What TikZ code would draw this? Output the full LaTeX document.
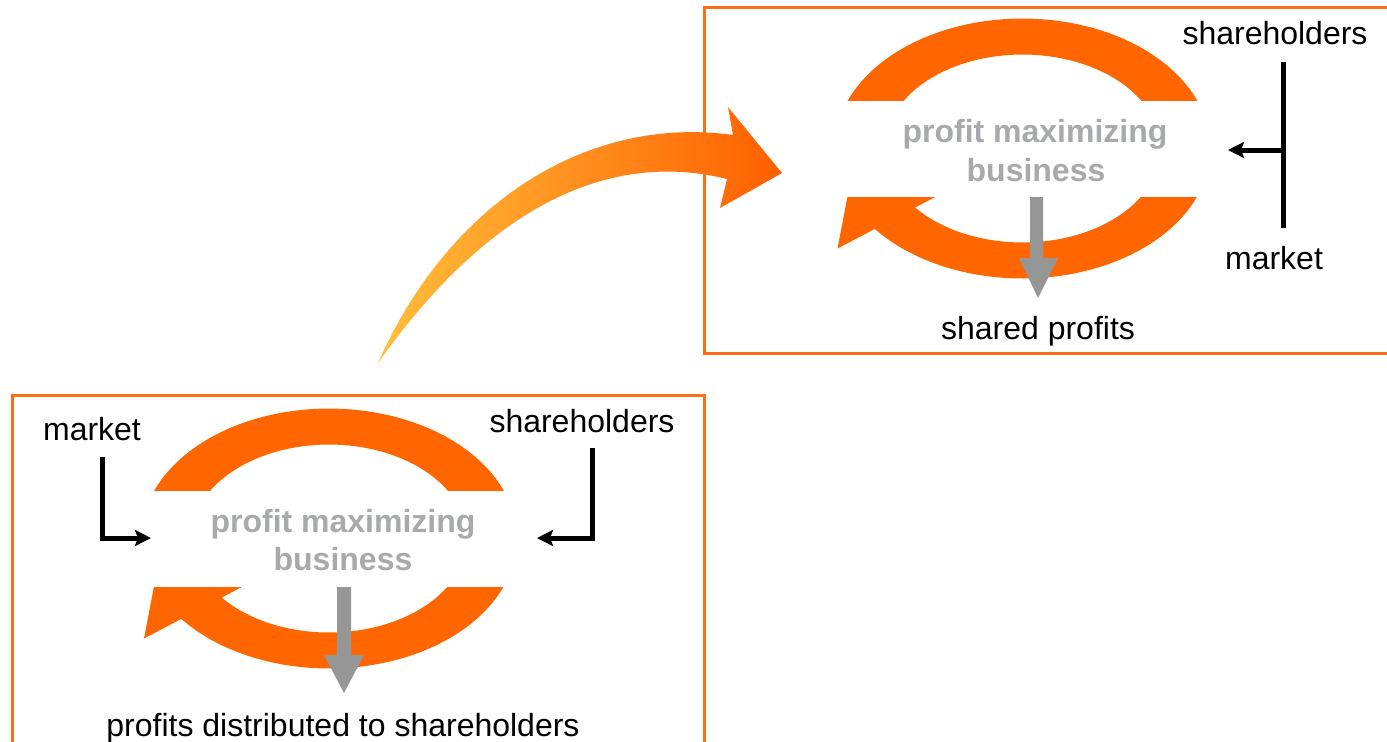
\documentclass[tikz,border=0pt]{standalone}
\usepackage{fontspec}
\setmainfont{Liberation Sans}
\usetikzlibrary{arrows.meta}
\definecolor{ringorange}{RGB}{255,102,0}
\definecolor{boxorange}{RGB}{255,110,20}
\definecolor{arrowgray}{RGB}{150,150,150}
\definecolor{textgray}{RGB}{167,169,172}
\definecolor{gradstart}{RGB}{255,190,60}
\definecolor{gradend}{RGB}{255,95,0}
\newcommand\myring[2]{%
  \begin{scope}[shift={(#1,#2)}]
    \begin{scope}
      \clip (-260,-220) rectangle (260,-48.5);
      \fill[ringorange] plot[domain=180:360,samples=60] ({188*cos(\x)},{130*sin(\x)})
        -- plot[domain=360:180,samples=60] ({138*cos(\x)},{94*sin(\x)}) -- cycle;
    \end{scope}
    \begin{scope}
      \clip (-260,48.5) rectangle (260,220);
      \fill[ringorange] plot[domain=0:141.8,samples=50] ({188*cos(\x)},{130*sin(\x)})
        -- (-185,100) -- (-166,1) -- (-73,41)
        -- plot[domain=141.1:0,samples=50] ({138*cos(\x)},{94*sin(\x)}) -- cycle;
    \end{scope}
  \end{scope}}
\begin{document}
\begin{tikzpicture}[x=0.5pt,y=-0.5pt,
  frame/.style={draw=boxorange,line width=1.5pt},
  lbl/.style={font=\fontsize{16}{19}\selectfont,inner sep=0pt,anchor=base},
  biz/.style={font=\fontsize{16}{19}\selectfont\bfseries,text=textgray,inner sep=0pt,anchor=base},
  conn/.style={line width=2.5pt,black},
  tip/.style={-{Stealth[length=8pt,width=8pt,inset=1.5pt]}},
  grayarrow/.style={fill=arrowgray}]
\useasboundingbox (0,0) rectangle (1387,741);
\begin{scope}
\clip (0,0) rectangle (1387,741);
% frames
\draw[frame] (1400,7) -- (704,7) -- (704,353) -- (1400,353);
\draw[frame] (12,760) -- (12,395) -- (704,395) -- (704,760);
% big curved arrow
\shade[left color=gradstart,right color=gradend]
  (378,363) .. controls (450,200) and (590,115) .. (733,135)
  -- (728,107) -- (782,173) -- (720,208) -- (727,179)
  .. controls (610,150) and (490,205) .. (378,363) -- cycle;
% rings
\myring{1022.5}{148.5}
\myring{329}{538.5}
% gray arrows
\fill[grayarrow] (1030,197) -- (1043,197) -- (1043,258) -- (1058,258) -- (1038,298) -- (1019,258) -- (1030,258) -- cycle;
\fill[grayarrow] (337,587) -- (351,587) -- (351,655) -- (364,655) -- (344,693) -- (324,655) -- (337,655) -- cycle;
\end{scope}
% texts top
\node[lbl] (shT) at (1275,44) {shareholders};
\node[lbl] (mkT) at (1274,269) {market};
\node[lbl] (spT) at (1038,339) {shared profits};
\node[biz] (bzT1) at (1035,142) {profit maximizing};
\node[biz] (bzT2) at (1036,181) {business};
% texts bottom
\node[lbl] (mkB) at (92,440) {market};
\node[lbl] (shB) at (582,432) {shareholders};
\node[biz] (bzB1) at (343,532) {profit maximizing};
\node[biz] (bzB2) at (343,570) {business};
\node[lbl] (pdB) at (343,736) {profits distributed to shareholders};
% connectors top
\coordinate (vT1) at (1283,62);
\coordinate (vT2) at (1283,228);
\coordinate (jT) at (1283,150);
\coordinate (aT) at (1228,150);
\draw[conn] (vT1) -- (vT2);
\draw[conn,tip] (jT) -- (aT);
% connectors bottom
\coordinate (mB1) at (102,457);
\coordinate (mB2) at (102,538);
\coordinate (mB3) at (151,538);
\coordinate (sB1) at (592,448);
\coordinate (sB2) at (592,538);
\coordinate (sB3) at (537,538);
\draw[conn,tip] (mB1) -- (mB2) -- (mB3);
\draw[conn,tip] (sB1) -- (sB2) -- (sB3);
\end{tikzpicture}
\end{document}
